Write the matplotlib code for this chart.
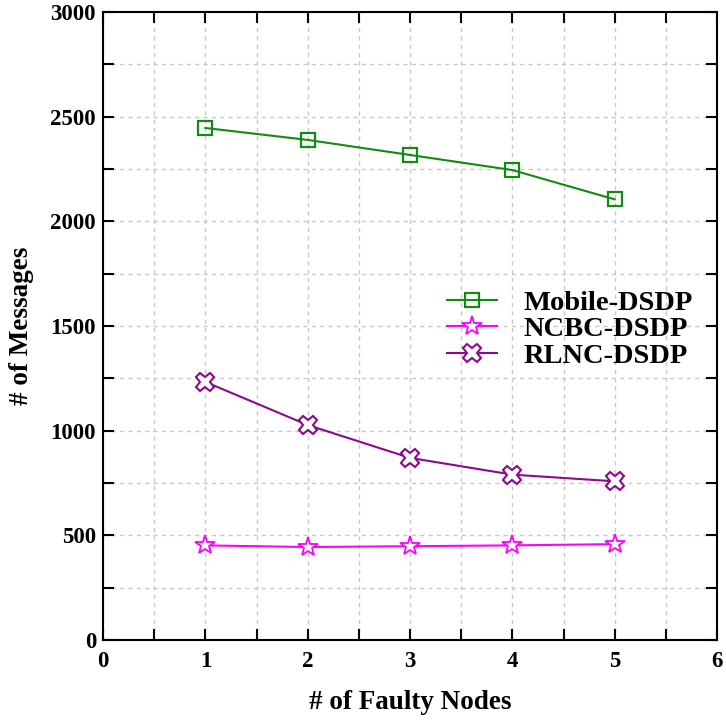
import matplotlib
matplotlib.use("Agg")
import matplotlib.pyplot as plt
from matplotlib.ticker import MultipleLocator

faulty_nodes = [1, 2, 3, 4, 5]
mobile_dsdp = [2446, 2389, 2317, 2245, 2105]
ncbc_dsdp = [452, 444, 448, 452, 458]
rlnc_dsdp = [1233, 1027, 870, 790, 758]

plt.rcParams['font.family'] = ['Liberation Serif', 'DejaVu Serif']
plt.rcParams['font.weight'] = 'bold'

fig = plt.figure(figsize=(7.26, 7.2), dpi=100)
ax = fig.add_axes([103 / 726, 80 / 720, 614 / 726, 628 / 720])

ax.plot(faulty_nodes, mobile_dsdp, color='#138a13', marker='s', markersize=10.5,
        markerfacecolor='none', markeredgewidth=1.6, linewidth=1.5, label='Mobile-DSDP')
ax.plot(faulty_nodes, ncbc_dsdp, color='#ff00ff', marker='*', markersize=15,
        markerfacecolor='white', markeredgewidth=1.3, linewidth=1.5, label='NCBC-DSDP')
ax.plot(faulty_nodes, rlnc_dsdp, color='#8b0a8b', marker='X', markersize=13,
        markerfacecolor='white', markeredgewidth=1.5, linewidth=1.5, label='RLNC-DSDP')

ax.set_xlim(0, 6)
ax.set_ylim(0, 3000)
ax.xaxis.set_major_locator(MultipleLocator(1))
ax.xaxis.set_minor_locator(MultipleLocator(0.5))
ax.yaxis.set_major_locator(MultipleLocator(500))
ax.yaxis.set_minor_locator(MultipleLocator(250))

ax.grid(which='both', color='#c8c8c8', linestyle=(0, (3, 3)), linewidth=1)
ax.tick_params(which='both', direction='in', top=True, right=True, labelsize=16.5,
               width=1.5, length=8)
ax.tick_params(axis='x', which='major', pad=8)
ax.tick_params(axis='y', which='major', pad=5)
for s in ax.spines.values():
    s.set_linewidth(1.5)

ax.set_xlabel('# of Faulty Nodes', fontsize=19.5, fontweight='bold', labelpad=13)
ax.set_ylabel('# of Messages', fontsize=19.5, fontweight='bold', labelpad=12)

ax.legend(loc='upper left', bbox_to_anchor=(0.560, 0.558), frameon=False,
          handlelength=1.75, labelspacing=0.02, handletextpad=0.95,
          borderpad=0, borderaxespad=0, prop={'weight': 'bold', 'size': 20.5})

fig.savefig('out.png', dpi=100)
